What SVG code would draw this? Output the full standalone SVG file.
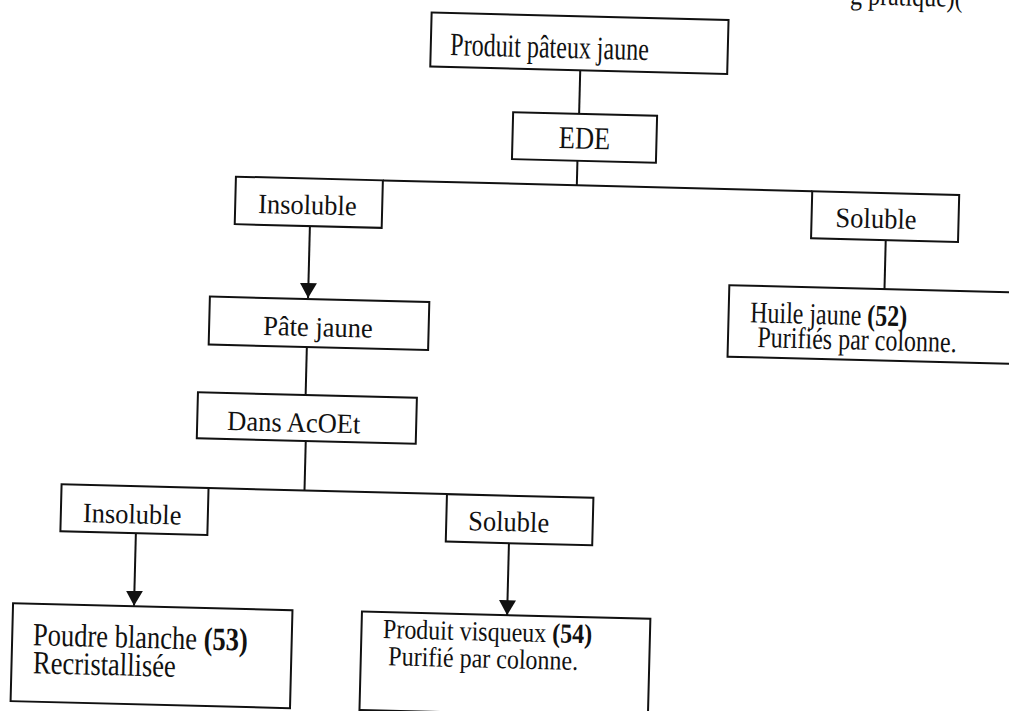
<svg xmlns="http://www.w3.org/2000/svg" width="1009" height="711" viewBox="0 0 1009 711">
  <style>
    .box { fill: #fff; stroke: #111; stroke-width: 2; }
    .wire { fill: none; stroke: #111; stroke-width: 2; }
    text { font-family: "Liberation Serif", "Times New Roman", serif; fill: #111; }
    .t26 { font-size: 26.5px; }
    .t24 { font-size: 24px; }
    .b { font-weight: bold; }
  </style>
  <defs>
    <marker id="arrow" viewBox="0 0 15 17" refX="15" refY="8.5" markerWidth="15" markerHeight="17" markerUnits="userSpaceOnUse" orient="auto">
      <path d="M0,0 L15,8.5 L0,17 z" fill="#111"/>
    </marker>
  </defs>
  <rect width="1009" height="711" fill="#fff"/>

  <!-- the whole sheet sits slightly tilted; labels are typed slightly tall -->
  <g transform="rotate(1.45 504 355)">
    <text class="t24" transform="matrix(1 0 0 1.2 841 -4.5)">g  pratique)(</text>

    <g id="connectors">
      <path class="wire" d="M573,68.5 V112"/>
      <path class="wire" d="M572.5,159 V183.5"/>
      <path class="wire" d="M378.5,183.5 H808"/>
      <path class="wire" d="M306.7,231 V303" marker-end="url(#arrow)"/>
      <path class="wire" d="M306.7,352 V400"/>
      <path class="wire" d="M308,446 V495.5"/>
      <path class="wire" d="M212,495.5 H450.5"/>
      <path class="wire" d="M140.5,542.5 V615" marker-end="url(#arrow)"/>
      <path class="wire" d="M513.7,543 V615" marker-end="url(#arrow)"/>
      <path class="wire" d="M882.7,230.5 V279.5"/>
    </g>

    <g id="produit-pateux">
      <rect class="box" x="423" y="14.5" width="297" height="54"/>
      <text class="t24" transform="matrix(1 0 0 1.35 442.5 56.5)">Produit pâteux jaune</text>
    </g>

    <g id="ede">
      <rect class="box" x="507" y="112" width="144" height="47"/>
      <text class="t26" transform="matrix(1 0 0 1.2 579 146.7)" text-anchor="middle">EDE</text>
    </g>

    <g id="insoluble-1">
      <rect class="box" x="231.5" y="183.5" width="147" height="47.5"/>
      <text class="t26" transform="matrix(1 0 0 1.05 254.4 219.2)">Insoluble</text>
    </g>

    <g id="soluble-1">
      <rect class="box" x="808" y="183.5" width="147" height="47"/>
      <text class="t26" transform="matrix(1 0 0 1.07 832 218.6)">Soluble</text>
    </g>

    <g id="pate-jaune">
      <rect class="box" x="208.5" y="304" width="219.5" height="48"/>
      <text class="t26" transform="matrix(1 0 0 1.05 262.5 341)">Pâte jaune</text>
    </g>

    <g id="huile-jaune">
      <rect class="box" x="727.5" y="279.5" width="320" height="71.5"/>
      <text class="t24" transform="matrix(1 0 0 1.25 749 316)">Huile jaune <tspan class="b">(52)</tspan></text>
      <text class="t24" transform="matrix(1 0 0 1.25 757 340.6)">Purifiés par colonne.</text>
    </g>

    <g id="dans-acoet">
      <rect class="box" x="199" y="400" width="219" height="46"/>
      <text class="t26" transform="matrix(1 0 0 1.05 229 437)">Dans AcOEt</text>
    </g>

    <g id="insoluble-2">
      <rect class="box" x="65" y="495.5" width="147" height="47"/>
      <text class="t26" transform="matrix(1 0 0 1.05 87 532.7)">Insoluble</text>
    </g>

    <g id="soluble-2">
      <rect class="box" x="450.5" y="495.5" width="146.5" height="47.5"/>
      <text class="t26" transform="matrix(1 0 0 1.07 472.4 531)">Soluble</text>
    </g>

    <g id="poudre-blanche">
      <rect class="box" x="19.5" y="615.5" width="279.5" height="98"/>
      <text class="t26" transform="matrix(1 0 0 1.22 40.3 657)">Poudre blanche <tspan class="b">(53)</tspan></text>
      <text class="t26" transform="matrix(1 0 0 1.22 41 685)">Recristallisée</text>
    </g>

    <g id="produit-visqueux">
      <rect class="box" x="368.5" y="615" width="288.5" height="98.5"/>
      <text class="t24" transform="matrix(1 0 0 1.15 390 641)">Produit visqueux <tspan class="b">(54)</tspan></text>
      <text class="t24" transform="matrix(1 0 0 1.15 396 668)">Purifié par colonne.</text>
    </g>
  </g>
</svg>
